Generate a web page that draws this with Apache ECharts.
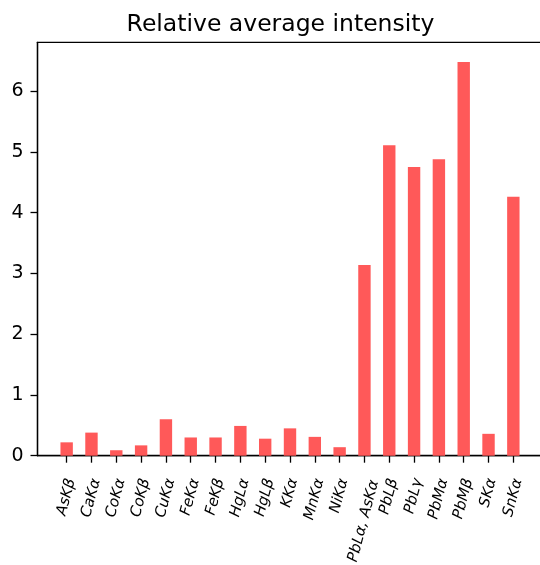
<!DOCTYPE html>
<html>
<head>
<meta charset="utf-8">
<script src="https://cdn.jsdelivr.net/npm/echarts@6/dist/echarts.min.js"></script>
<style>
  html, body { margin: 0; padding: 0; background: #fff; }
  #chart { width: 540px; height: 565px; }
</style>
</head>
<body>
<div id="chart"></div>
<script>
// Emission lines and their relative average intensity
const categories = ['AsKβ', 'CaKα', 'CoKα', 'CoKβ', 'CuKα', 'FeKα', 'FeKβ', 'HgLα', 'HgLβ', 'KKα',
  'MnKα', 'NiKα', 'PbLα, AsKα', 'PbLβ', 'PbLγ', 'PbMα', 'PbMβ', 'SKα', 'SnKα'];
const intensity = [0.22, 0.38, 0.09, 0.17, 0.60, 0.30, 0.30, 0.49, 0.28, 0.45,
  0.31, 0.14, 3.14, 5.11, 4.75, 4.88, 6.48, 0.36, 4.26];
const yTicks = [0, 1, 2, 3, 4, 5, 6];
const titleText = 'Relative average intensity';

const FONT = '"DejaVu Sans", Verdana, sans-serif';
const LABEL_ROTATE = 75;
const LABEL_SIZE = 15;
const TICK_SIZE = 19;
const TITLE_SIZE = 23.5;

// text measuring helper
const ctx = document.createElement('canvas').getContext('2d');
function textWidth(str, font) { ctx.font = font; return ctx.measureText(str).width; }

// Rotated tick labels: shift each one so its bounding box is centred under its tick
const rad = LABEL_ROTATE * Math.PI / 180;
const rich = {};
categories.forEach((c, i) => {
  const w = textWidth(c, 'italic ' + LABEL_SIZE + 'px ' + FONT);
  rich['t' + i] = {
    fontFamily: FONT, fontStyle: 'italic', fontSize: LABEL_SIZE, color: '#000',
    padding: [w * Math.sin(rad) * Math.cos(rad), 0, 0, 0]
  };
});

const xPos = categories.map((_, i) => i);
const barData = intensity.map((v, i) => [i, v]);

const titleW = textWidth(titleText, TITLE_SIZE + 'px ' + FONT);

const chart = echarts.init(document.getElementById('chart'), null, { renderer: 'canvas' });
chart.setOption({
  animation: false,
  backgroundColor: '#fff',
  title: {
    text: titleText,
    left: 280.5 - titleW / 2,
    top: 13,
    padding: 0,
    textStyle: { fontFamily: FONT, fontSize: TITLE_SIZE, fontWeight: 'normal', color: '#000' }
  },
  grid: {
    left: 37.5, top: 42.3, width: 505, height: 413.4,
    show: true, borderColor: '#000', borderWidth: 1.3, backgroundColor: 'transparent',
    containLabel: false,
    outerBoundsMode: 'none'
  },
  xAxis: {
    type: 'value',
    min: -1.175, max: 19.175,
    axisLine: { show: true, onZero: false, lineStyle: { color: '#000', width: 1.3 } },
    axisTick: { show: true, length: 7, customValues: xPos, lineStyle: { color: '#000', width: 1.3 } },
    splitLine: { show: false },
    axisLabel: {
      customValues: xPos,
      rotate: LABEL_ROTATE,
      margin: 22,
      formatter: v => { const i = Math.round(v); return '{t' + i + '|' + categories[i] + '}'; },
      rich: rich,
      fontFamily: FONT, fontStyle: 'italic', fontSize: LABEL_SIZE, color: '#000'
    }
  },
  yAxis: {
    type: 'value',
    min: 0, max: 6.804,
    axisLine: { show: true, onZero: false, lineStyle: { color: '#000', width: 1.3 } },
    axisTick: { show: true, length: 7, customValues: yTicks, lineStyle: { color: '#000', width: 1.3 } },
    splitLine: { show: false },
    axisLabel: {
      customValues: yTicks,
      margin: 14,
      fontFamily: FONT, fontSize: TICK_SIZE, color: '#000'
    }
  },
  series: [{
    type: 'bar',
    data: barData,
    barWidth: 12.4,
    itemStyle: { color: '#ff5959' },
    silent: true
  }]
});
</script>
</body>
</html>
